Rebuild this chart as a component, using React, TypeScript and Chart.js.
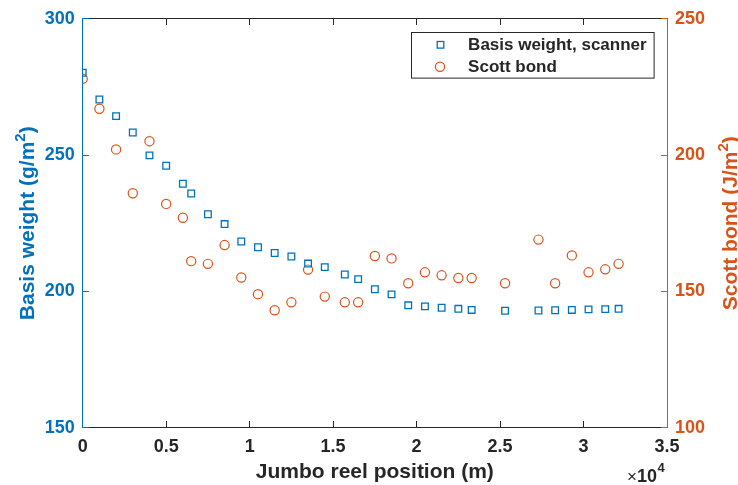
import React, { useEffect, useRef } from "react";
import { Chart, registerables } from "chart.js";

Chart.register(...registerables);

// ---- Data ----
const reelPositions = [
  0, 1000, 2000, 3000, 4000, 5000, 6000, 6500, 7500, 8500, 9500, 10500, 11500,
  12500, 13500, 14500, 15700, 16500, 17500, 18500, 19500, 20500, 21500, 22500,
  23300, 25300, 27300, 28300, 29300, 30300, 31300, 32100,
];
const basisWeight = [
  280.2, 270.4, 264.3, 258.3, 249.9, 246.1, 239.5, 235.9, 228.3, 224.7, 218.3,
  216.2, 214.1, 212.8, 210.2, 208.9, 206.2, 204.5, 200.8, 198.9, 194.9, 194.5,
  194.0, 193.6, 193.2, 192.9, 193.0, 193.1, 193.2, 193.4, 193.5, 193.6,
];
const scottBond = [
  228, 217, 202.1, 186, 205.1, 182.1, 177, 161.1, 160.1, 167, 155.1, 149, 143.1,
  146, 158, 148.1, 146, 146, 163, 162.1, 153, 157, 155.9, 154.9, 154.9, 153, 169,
  153, 163.2, 157, 158.1, 160.1,
];
const seriesNames = ["Basis weight, scanner", "Scott bond"];
const xRange = [0, 35000];
const xStep = 5000;
const xExponent = "4";
const leftRange = [150, 300];
const rightRange = [100, 250];
const yStep = 50;
const xTitle = "Jumbo reel position (m)";
const leftTitle = [{ t: "Basis weight (g/m" }, { t: "2", sup: true }, { t: ")" }];
const rightTitle = [{ t: "Scott bond (J/m" }, { t: "2", sup: true }, { t: ")" }];

// ---- Styles ----
const BLUE = "#0072BD";
const ORANGE = "#D95319";
const DARK = "#262626";
const FONT = "'Liberation Sans', Arial, Helvetica, sans-serif";

type Part = { t: string; sup?: boolean };

function drawSupText(
  ctx: CanvasRenderingContext2D,
  parts: Part[],
  size: number,
  supSize: number,
  rise: number,
  color: string
) {
  const mainFont = `bold ${size}px ${FONT}`;
  const supFont = `bold ${supSize}px ${FONT}`;
  let total = 0;
  const widths = parts.map((p) => {
    ctx.font = p.sup ? supFont : mainFont;
    const w = ctx.measureText(p.t).width;
    total += w;
    return w;
  });
  let x = -total / 2;
  ctx.fillStyle = color;
  ctx.textBaseline = "alphabetic";
  ctx.textAlign = "left";
  parts.forEach((p, i) => {
    ctx.font = p.sup ? supFont : mainFont;
    ctx.fillText(p.t, x, p.sup ? -rise : 0);
    x += widths[i];
  });
}

const decorPlugin = {
  id: "decor",
  beforeDatasetsDraw(chart: any) {
    const { ctx, chartArea: a, scales } = chart;
    const L = Math.floor(a.left) + 0.5;
    const R = Math.floor(a.right) + 0.5;
    const T = Math.floor(a.top) + 0.5;
    const B = Math.floor(a.bottom) + 0.5;
    const tick = 6.5;
    ctx.save();
    ctx.lineWidth = 1;
    // black top / bottom axes
    ctx.strokeStyle = DARK;
    ctx.beginPath();
    ctx.moveTo(L, T);
    ctx.lineTo(R, T);
    ctx.moveTo(L, B);
    ctx.lineTo(R, B);
    scales.x.ticks.forEach((t: any) => {
      const px = Math.floor(scales.x.getPixelForValue(t.value)) + 0.5;
      ctx.moveTo(px, B);
      ctx.lineTo(px, B - tick);
      ctx.moveTo(px, T);
      ctx.lineTo(px, T + tick);
    });
    ctx.stroke();
    // left axis (blue)
    ctx.strokeStyle = BLUE;
    ctx.beginPath();
    ctx.moveTo(L, T);
    ctx.lineTo(L, B);
    scales.y.ticks.forEach((t: any) => {
      const py = Math.floor(scales.y.getPixelForValue(t.value)) + 0.5;
      ctx.moveTo(L, py);
      ctx.lineTo(L + tick, py);
    });
    ctx.stroke();
    // right axis (orange)
    ctx.strokeStyle = ORANGE;
    ctx.beginPath();
    ctx.moveTo(R, T);
    ctx.lineTo(R, B);
    scales.y1.ticks.forEach((t: any) => {
      const py = Math.floor(scales.y1.getPixelForValue(t.value)) + 0.5;
      ctx.moveTo(R, py);
      ctx.lineTo(R - tick, py);
    });
    ctx.stroke();
    ctx.restore();
  },
  afterDraw(chart: any) {
    const { ctx, chartArea: a } = chart;
    const cy = (a.top + a.bottom) / 2;
    const cx = (a.left + a.right) / 2;
    ctx.save();

    // Left title
    ctx.save();
    ctx.translate(33.5, cy);
    ctx.rotate(-Math.PI / 2);
    drawSupText(ctx, leftTitle, 21, 15, 9, BLUE);
    ctx.restore();

    // Right title
    ctx.save();
    ctx.translate(a.right + 69.5, cy);
    ctx.rotate(-Math.PI / 2);
    drawSupText(ctx, rightTitle, 21, 15, 9, ORANGE);
    ctx.restore();

    // X title
    ctx.save();
    ctx.translate(cx, 477.5);
    drawSupText(ctx, [{ t: xTitle }], 21, 15, 9, DARK);
    ctx.restore();

    // x10^4 exponent
    ctx.fillStyle = DARK;
    ctx.textBaseline = "alphabetic";
    ctx.textAlign = "right";
    ctx.font = `bold 18px ${FONT}`;
    const w10 = ctx.measureText("10").width;
    ctx.fillText("10", a.right - 10, 481.5);
    ctx.font = `17px ${FONT}`;
    ctx.fillText("\u00D7", a.right - 10 - w10, 481.5);
    ctx.textAlign = "left";
    ctx.font = `bold 13px ${FONT}`;
    ctx.fillText(xExponent, a.right - 9.5, 471.5);

    // Legend
    const bw = 242.6;
    const bh = 45.6;
    const bx = Math.floor(a.right - 12.7 - bw) + 0.5;
    const by = Math.floor(a.top + 13.4) + 0.5;
    ctx.fillStyle = "#ffffff";
    ctx.fillRect(bx, by, bw, bh);
    ctx.strokeStyle = DARK;
    ctx.lineWidth = 1;
    ctx.strokeRect(bx, by, bw, bh);
    // square marker
    ctx.strokeStyle = BLUE;
    ctx.lineWidth = 1.3;
    const s = 3.3;
    ctx.strokeRect(bx + 29 - s, by + 12.3 - s, 2 * s, 2 * s);
    // circle marker
    ctx.strokeStyle = ORANGE;
    ctx.lineWidth = 1.2;
    ctx.beginPath();
    ctx.arc(bx + 28.5, by + 34.3, 4.6, 0, Math.PI * 2);
    ctx.stroke();
    ctx.fillStyle = DARK;
    ctx.font = `bold 17px ${FONT}`;
    ctx.textBaseline = "middle";
    ctx.textAlign = "left";
    ctx.fillText(seriesNames[0], bx + 56.6, by + 12.8);
    ctx.fillText(seriesNames[1], bx + 56.6, by + 34.8);

    ctx.restore();
  },
};

export default function App() {
  const canvasRef = useRef<HTMLCanvasElement | null>(null);

  useEffect(() => {
    const canvas = canvasRef.current;
    if (!canvas) return;
    const tickFont = { family: FONT, size: 18, weight: "bold" as const };
    const chart = new Chart(canvas, {
      type: "scatter",
      data: {
        datasets: [
          {
            label: seriesNames[0],
            data: reelPositions.map((x, i) => ({ x, y: basisWeight[i] })),
            yAxisID: "y",
            pointStyle: "rect",
            pointRadius: 4.7,
            pointBorderWidth: 1.3,
            borderColor: BLUE,
            backgroundColor: "rgba(0,0,0,0)",
            showLine: false,
          },
          {
            label: seriesNames[1],
            data: reelPositions.map((x, i) => ({ x, y: scottBond[i] })),
            yAxisID: "y1",
            pointStyle: "circle",
            pointRadius: 4.6,
            pointBorderWidth: 1.2,
            borderColor: ORANGE,
            backgroundColor: "rgba(0,0,0,0)",
            showLine: false,
          },
        ],
      },
      options: {
        animation: false,
        responsive: false,
        devicePixelRatio: 1,
        layout: { padding: { top: 18.3, left: 0, right: 0, bottom: 0 } },
        plugins: {
          legend: { display: false },
          tooltip: { enabled: false },
          title: { display: false },
        },
        events: [],
        scales: {
          x: {
            type: "linear",
            position: "bottom",
            min: xRange[0],
            max: xRange[1],
            grid: { display: false, drawTicks: false },
            border: { display: false },
            ticks: {
              stepSize: xStep,
              autoSkip: false,
              maxRotation: 0,
              color: DARK,
              font: tickFont,
              padding: 9,
              callback: (v: any) => String(Number(v) / 10000),
            },
            afterFit: (s: any) => {
              s.height = 57.3;
            },
          },
          y: {
            type: "linear",
            position: "left",
            min: leftRange[0],
            max: leftRange[1],
            grid: { display: false, drawTicks: false },
            border: { display: false },
            ticks: { stepSize: yStep, color: BLUE, font: tickFont, padding: 8 },
            afterFit: (s: any) => {
              s.width = 82.7;
            },
          },
          y1: {
            type: "linear",
            position: "right",
            min: rightRange[0],
            max: rightRange[1],
            grid: { display: false, drawTicks: false },
            border: { display: false },
            ticks: { stepSize: yStep, color: ORANGE, font: tickFont, padding: 8 },
            afterFit: (s: any) => {
              s.width = 71;
            },
          },
        },
      },
      plugins: [decorPlugin],
    });
    return () => chart.destroy();
  }, []);

  return (
    <div
      style={{
        position: "fixed",
        left: 0,
        top: 0,
        width: 738,
        height: 485,
        background: "#ffffff",
      }}
    >
      <canvas ref={canvasRef} width={738} height={485} style={{ width: 738, height: 485 }} />
    </div>
  );
}
